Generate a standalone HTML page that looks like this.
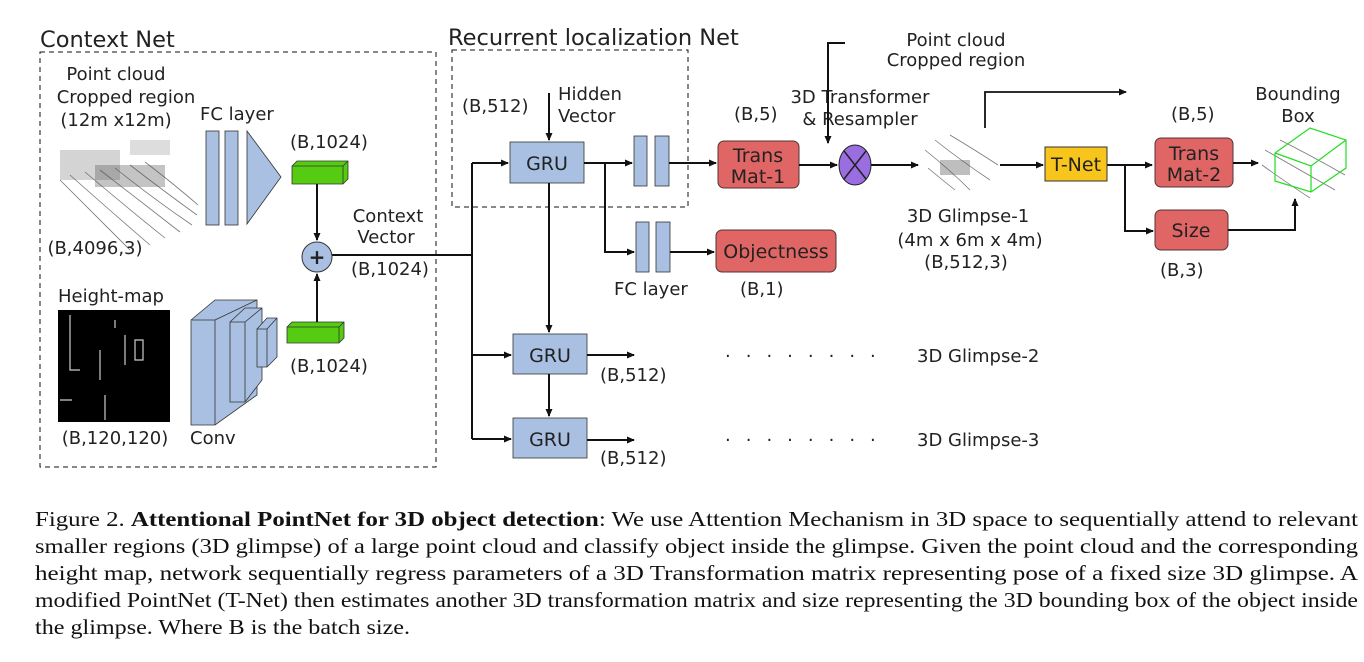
<!DOCTYPE html>
<html><head><meta charset="utf-8"><style>
body{margin:0;background:#fff;width:1364px;height:657px;overflow:hidden}
svg text{font-family:"DejaVu Sans","Liberation Sans",sans-serif;font-size:18px;fill:#222}
svg text.cap{font-family:"Liberation Serif",serif;font-size:21px;fill:#111}
</style></head><body>
<svg width="1364" height="657" viewBox="0 0 1364 657" xmlns="http://www.w3.org/2000/svg">
<defs>
<marker id="a" markerWidth="8" markerHeight="8" refX="7" refY="4" orient="auto" markerUnits="userSpaceOnUse"><path d="M0,0.5 L8,4 L0,7.5 z" fill="#111"/></marker>
</defs>
<g stroke="#111" fill="none" stroke-width="1" stroke-dasharray="5,4">
<rect x="40" y="52" width="396" height="415"/>
<rect x="452" y="50" width="236" height="157"/>
</g>
<text x="40" y="47" style="font-size:22.5px">Context Net</text>
<text x="448" y="45" style="font-size:22.5px">Recurrent localization Net</text>

<!-- context net -->
<text x="116" y="80" text-anchor="middle">Point cloud</text>
<text x="126" y="103" text-anchor="middle">Cropped region</text>
<text x="116" y="126" text-anchor="middle">(12m x12m)</text>
<g stroke="#777" stroke-width="0.8" fill="none">
<path d="M60,180 Q100,220 130,250 M70,175 Q115,215 150,245 M85,172 Q130,210 165,238 M100,170 Q145,205 180,232 M115,168 Q155,200 192,225 M130,165 Q165,192 197,215 M145,162 Q175,185 198,205"/>
</g>
<g fill="#555"><rect x="60" y="150" width="60" height="30" opacity="0.25"/><rect x="95" y="165" width="70" height="22" opacity="0.35"/><rect x="130" y="140" width="40" height="15" opacity="0.2"/></g>
<text x="95" y="254" text-anchor="middle">(B,4096,3)</text>
<text x="58" y="302">Height-map</text>
<rect x="58" y="310" width="112" height="112" fill="#000"/>
<g stroke="#ccc" stroke-width="1.2" fill="none"><path d="M70,315 V370 H80 M100,350 v30 M105,395 v25 M125,335 v30 M135,340 h8 v20 h-8 z M115,320 v8 M60,400 h12"/></g>
<text x="115" y="444" text-anchor="middle">(B,120,120)</text>
<text x="190" y="444">Conv</text>
<text x="200" y="120">FC layer</text>
<g fill="#a9c0e2" stroke="#333" stroke-width="0.8">
<rect x="206" y="131" width="13" height="94"/><rect x="225" y="131" width="13" height="94"/>
<path d="M247,131 L281,177 L247,224 z"/>
<path d="M191,320 L215,300 L257,300 L257,395 L215,425 L191,425 z"/>
<path d="M191,320 h24 v105 M215,320 L257,300"/>
<path d="M230,322 L245,308 L262,308 L262,380 L245,402 L230,402 z M230,322 h15 v80 M245,322 L262,308"/>
<path d="M257,329 L267,318 L277,318 L277,357 L267,367 L257,367 z M257,329 h10 v38 M267,329 L277,318"/>
</g>
<g stroke="#333" stroke-width="0.8">
<path d="M292,166 L297,161 L348,161 L348,179 L343,184 L292,184 z" fill="#55cc11"/>
<path d="M292,166 h51 v18 M343,166 l5,-5" fill="none"/>
<path d="M287,327 L292,322 L344,322 L344,338 L339,343 L287,343 z" fill="#55cc11"/>
<path d="M287,327 h52 v16 M339,327 l5,-5" fill="none"/>
</g>
<text x="290" y="148">(B,1024)</text>
<text x="290" y="372">(B,1024)</text>
<g stroke="#111" stroke-width="2" fill="none">
<path d="M317,184 V240" marker-end="url(#a)"/>
<path d="M317,322 V274" marker-end="url(#a)"/>
<path d="M332,255 H472"/>
<path d="M472,163 V439"/>
<path d="M472,163 H508" marker-end="url(#a)"/>
<path d="M472,355 H511" marker-end="url(#a)"/>
<path d="M472,439 H511" marker-end="url(#a)"/>
</g>
<circle cx="317" cy="257" r="15" fill="#a9c0e2" stroke="#333"/>
<text x="317" y="264" text-anchor="middle" style="font-size:20px;font-weight:bold">+</text>
<text x="388" y="222" text-anchor="middle">Context</text>
<text x="386" y="243" text-anchor="middle">Vector</text>
<text x="390" y="275" text-anchor="middle">(B,1024)</text>

<!-- recurrent -->
<text x="462" y="112">(B,512)</text>
<text x="558" y="100">Hidden</text>
<text x="558" y="122">Vector</text>
<g fill="#a9c0e2" stroke="#333" stroke-width="0.8">
<rect x="510" y="142" width="74" height="41"/>
<rect x="513" y="334" width="74" height="40"/>
<rect x="513" y="418" width="74" height="40"/>
<rect x="634" y="136" width="13" height="50"/><rect x="655" y="136" width="14" height="50"/>
<rect x="636" y="222" width="13" height="50"/><rect x="656" y="222" width="14" height="50"/>
</g>
<text x="547" y="170" text-anchor="middle" style="font-size:19px">GRU</text>
<text x="550" y="362" text-anchor="middle" style="font-size:19px">GRU</text>
<text x="550" y="446" text-anchor="middle" style="font-size:19px">GRU</text>
<g stroke="#111" stroke-width="2" fill="none">
<path d="M549,93 V140" marker-end="url(#a)"/>
<path d="M549,183 V332" marker-end="url(#a)"/>
<path d="M549,374 V416" marker-end="url(#a)"/>
<path d="M584,163 H632" marker-end="url(#a)"/>
<path d="M605,163 V252 H634" marker-end="url(#a)"/>
<path d="M669,163 H716" marker-end="url(#a)"/>
<path d="M670,252 H714" marker-end="url(#a)"/>
<path d="M587,355 H634" marker-end="url(#a)"/>
<path d="M587,440 H634" marker-end="url(#a)"/>
</g>
<text x="614" y="295">FC layer</text>
<text x="600" y="381">(B,512)</text>
<text x="600" y="464">(B,512)</text>
<text x="725" y="362" style="letter-spacing:15px">········</text>
<text x="917" y="362">3D Glimpse-2</text>
<text x="725" y="446" style="letter-spacing:15px">········</text>
<text x="917" y="446">3D Glimpse-3</text>

<!-- right -->
<g fill="#e06666" stroke="#533" stroke-width="1">
<rect x="718" y="141" width="81" height="47" rx="6"/>
<rect x="716" y="230" width="120" height="42" rx="6"/>
<rect x="1155" y="138" width="78" height="49" rx="6"/>
<rect x="1155" y="210" width="73" height="40" rx="6"/>
</g>
<text x="758" y="162" text-anchor="middle" style="font-size:19px">Trans</text>
<text x="758" y="183" text-anchor="middle" style="font-size:19px">Mat-1</text>
<text x="776" y="258" text-anchor="middle" style="font-size:19px">Objectness</text>
<text x="1194" y="160" text-anchor="middle" style="font-size:19px">Trans</text>
<text x="1194" y="181" text-anchor="middle" style="font-size:19px">Mat-2</text>
<text x="1191" y="237" text-anchor="middle" style="font-size:19px">Size</text>
<text x="734" y="120">(B,5)</text>
<text x="740" y="295">(B,1)</text>
<text x="1171" y="120">(B,5)</text>
<text x="1160" y="276">(B,3)</text>
<text x="860" y="103" text-anchor="middle">3D Transformer</text>
<text x="860" y="125" text-anchor="middle">&amp; Resampler</text>
<text x="956" y="46" text-anchor="middle">Point cloud</text>
<text x="956" y="66" text-anchor="middle">Cropped region</text>
<g stroke="#111" stroke-width="2" fill="none">
<path d="M845,43 H828 V143" marker-end="url(#a)"/>
<path d="M799,165 H837" marker-end="url(#a)"/>
<path d="M871,165 H918" marker-end="url(#a)"/>
<path d="M1000,165 H1043" marker-end="url(#a)"/>
<path d="M1107,165 H1152" marker-end="url(#a)"/>
<path d="M1125,165 V231 H1153" marker-end="url(#a)"/>
<path d="M1233,163 H1258" marker-end="url(#a)"/>
<path d="M1228,230 H1295 V199" marker-end="url(#a)"/>
<path d="M985,128 V92 H1126" marker-end="url(#a)" stroke-width="1.8"/>
</g>
<ellipse cx="855" cy="165" rx="16" ry="20" fill="#9a6ee0" stroke="#222"/>
<path d="M844,151 L866,179 M866,151 L844,179" stroke="#222" stroke-width="1.5"/>
<g stroke="#777" stroke-width="0.8" fill="none">
<path d="M925,150 Q950,170 970,190 M935,140 Q960,160 990,180 M950,135 Q975,150 998,165 M928,168 Q940,178 955,190"/>
<path d="M1262,165 Q1290,185 1310,198 M1265,150 Q1300,170 1335,190 M1280,140 Q1310,155 1345,175"/>
</g>
<rect x="940" y="160" width="30" height="15" fill="#444" opacity="0.35"/>
<rect x="1045" y="147" width="62" height="34" fill="#f8c51c" stroke="#333"/>
<text x="1076" y="171" text-anchor="middle" style="font-size:19px">T-Net</text>
<text x="968" y="222" text-anchor="middle">3D Glimpse-1</text>
<text x="970" y="246" text-anchor="middle">(4m x 6m x 4m)</text>
<text x="966" y="268" text-anchor="middle">(B,512,3)</text>
<text x="1298" y="100" text-anchor="middle">Bounding</text>
<text x="1298" y="122" text-anchor="middle">Box</text>
<g stroke="#2d2" stroke-width="1.2" fill="none">
<path d="M1275,153 L1310,128 L1346,140 L1346,168 L1311,192 L1275,181 z M1275,153 L1311,166 L1346,140 M1311,166 V192"/>
</g>

<!-- caption -->
<text class="cap" x="35" y="526" textLength="1323" lengthAdjust="spacingAndGlyphs">Figure 2. <tspan style="font-weight:bold">Attentional PointNet for 3D object detection</tspan>: We use Attention Mechanism in 3D space to sequentially attend to relevant</text>
<text class="cap" x="35" y="553" textLength="1323" lengthAdjust="spacingAndGlyphs">smaller regions (3D glimpse) of a large point cloud and classify object inside the glimpse. Given the point cloud and the corresponding</text>
<text class="cap" x="35" y="580" textLength="1323" lengthAdjust="spacingAndGlyphs">height map, network sequentially regress parameters of a 3D Transformation matrix representing pose of a fixed size 3D glimpse. A</text>
<text class="cap" x="35" y="607" textLength="1323" lengthAdjust="spacingAndGlyphs">modified PointNet (T-Net) then estimates another 3D transformation matrix and size representing the 3D bounding box of the object inside</text>
<text class="cap" x="35" y="634" textLength="375" lengthAdjust="spacingAndGlyphs">the glimpse. Where B is the batch size.</text>
</svg>
</body></html>
